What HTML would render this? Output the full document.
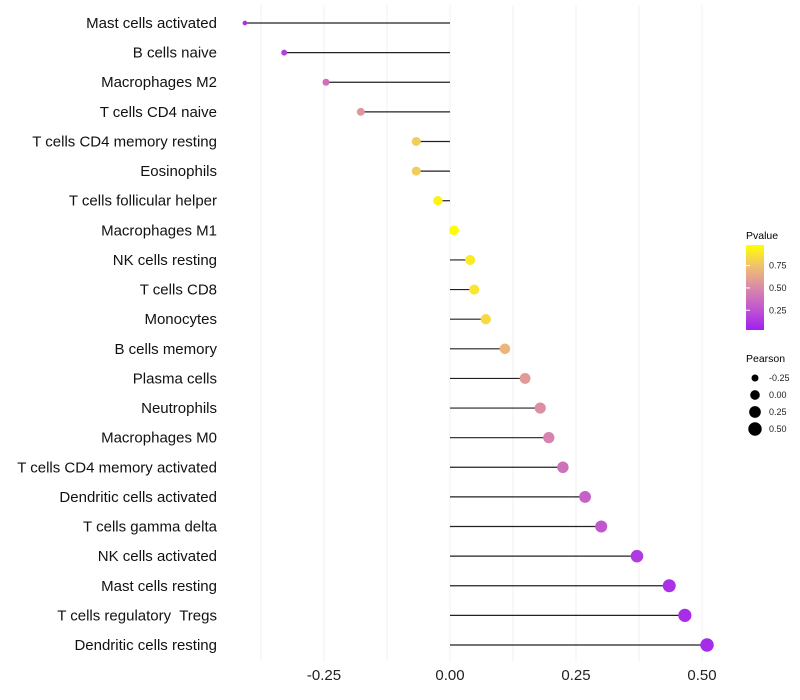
<!DOCTYPE html>
<html><head><meta charset="utf-8"><style>
body{margin:0;background:#fff}
svg{display:block;font-family:"Liberation Sans",sans-serif}
text{white-space:pre}
</style></head><body>
<svg id="chart" width="800" height="700">
<defs><linearGradient id="pg" x1="0" y1="1" x2="0" y2="0">
<stop offset="0" stop-color="#a020f0"/><stop offset="0.25" stop-color="#c256d0"/>
<stop offset="0.5" stop-color="#d98aa8"/><stop offset="0.75" stop-color="#f0c070"/>
<stop offset="1" stop-color="#ffff00"/></linearGradient></defs>
<g id="grid"></g>
<g id="marks"></g>
<g id="labels"></g>
<g id="xt"></g>
<g>
<text x="746" y="239" font-size="10.5">Pvalue</text>
<rect x="746" y="245" width="18" height="85" fill="url(#pg)"/>
<g id="cbt"></g>
</g>
<g id="sizeleg">
<text x="746" y="362" font-size="10.5">Pearson</text>
</g>
</svg>
<script>
const categories=["Mast cells activated","B cells naive","Macrophages M2","T cells CD4 naive","T cells CD4 memory resting","Eosinophils","T cells follicular helper","Macrophages M1","NK cells resting","T cells CD8","Monocytes","B cells memory","Plasma cells","Neutrophils","Macrophages M0","T cells CD4 memory activated","Dendritic cells activated","T cells gamma delta","NK cells activated","Mast cells resting","T cells regulatory  Tregs","Dendritic cells resting"];
const pearson=[-0.407,-0.329,-0.246,-0.177,-0.067,-0.067,-0.024,0.008,0.040,0.048,0.071,0.109,0.149,0.179,0.196,0.224,0.268,0.300,0.371,0.435,0.466,0.510];
const pvalue=[0.08,0.15,0.38,0.55,0.8,0.8,0.95,0.99,0.92,0.9,0.85,0.7,0.58,0.52,0.47,0.38,0.3,0.25,0.12,0.08,0.06,0.05];
const xTicks=[-0.25,0,0.25,0.5];
const xTickLabels=["-0.25","0.00","0.25","0.50"];
const cbTicks=[0.25,0.5,0.75];
const sizeLegend=[-0.25,0,0.25,0.5];
const NS="http://www.w3.org/2000/svg";
const X=v=>450+v*504;
const Y=i=>23+i*(622/21);
const R=v=>Math.sqrt(Math.max(23.2+43.7*v,3));
const stops=[[0,[160,32,240]],[0.25,[194,86,208]],[0.5,[217,138,168]],[0.75,[240,192,112]],[1,[255,255,0]]];
function col(p){for(let k=1;k<stops.length;k++){if(p<=stops[k][0]){const a=stops[k-1],b=stops[k],t=(p-a[0])/(b[0]-a[0]);return "rgb("+a[1].map((c,j)=>Math.round(c+(b[1][j]-c)*t)).join(",")+")";}}return "rgb(255,255,0)";}
function mk(tag,attrs,parent){const e=document.createElementNS(NS,tag);for(const k in attrs)e.setAttribute(k,attrs[k]);document.getElementById(parent).appendChild(e);return e;}
for(let k=-0.375;k<=0.5;k+=0.125){
 const l=mk("line",{x1:X(k),x2:X(k),y1:5,y2:662,stroke:"#f0f0f0","stroke-width":1},"grid");
 
 
}
categories.forEach((c,i)=>{
 const y=Y(i);
 const s=mk("line",{x1:X(0),x2:X(pearson[i]),y1:y,y2:y,stroke:"#222","stroke-width":1.2},"marks");
 
 
 const d=mk("circle",{cx:X(pearson[i]),cy:y,r:R(pearson[i]),fill:col(pvalue[i])},"marks");
 
 
 const t=mk("text",{x:217,y:y+5,"text-anchor":"end","font-size":15,fill:"#111"},"labels");
 t.textContent=c;
 
 
});
xTicks.forEach((v,i)=>{
 const t=mk("text",{x:X(v),y:680,"text-anchor":"middle","font-size":15,fill:"#222"},"xt");
 t.textContent=xTickLabels[i];
 
 
});
cbTicks.forEach(v=>{
 const y=330-(v-0.03)/0.95*85;
 const a=mk("line",{x1:746,x2:750,y1:y,y2:y,stroke:"#fff"},"cbt");
 
 
 const t=mk("text",{x:769,y:y+3,"font-size":9,fill:"#222"},"cbt");
 t.textContent=v.toFixed(2);
 
 
});
sizeLegend.forEach((v,i)=>{
 const y=378+i*17;
 const c=mk("circle",{cx:755,cy:y,r:R(v),fill:"#000"},"sizeleg");
 
 
 const t=mk("text",{x:769,y:y+3,"font-size":9,fill:"#222"},"sizeleg");
 t.textContent=v.toFixed(2);
 
 
});
</script>
</body></html>
